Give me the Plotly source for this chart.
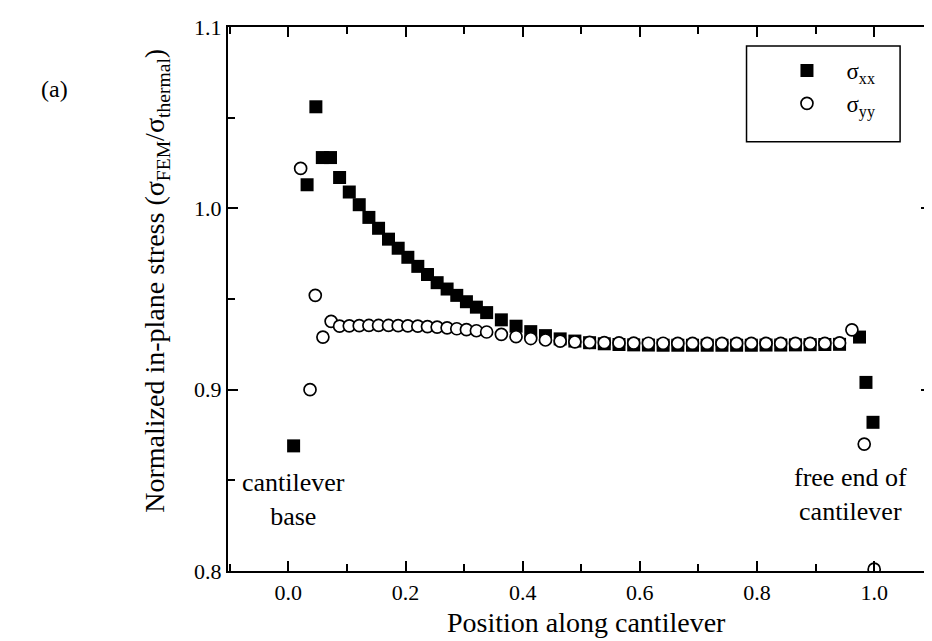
import plotly.graph_objects as go

# sigma_xx (filled squares)
x_xx = [0.009, 0.032, 0.047, 0.058, 0.072,
        0.0875, 0.104, 0.121, 0.1375, 0.154, 0.171, 0.1875, 0.204, 0.221, 0.2375,
        0.254, 0.271, 0.2875, 0.304, 0.321, 0.3385,
        0.3636, 0.3887, 0.4138, 0.4389, 0.4640, 0.4891, 0.5142, 0.5393, 0.5644, 0.5895,
        0.6146, 0.6397, 0.6648, 0.6899, 0.7150, 0.7401, 0.7652, 0.7903, 0.8154, 0.8405,
        0.8656, 0.8907, 0.9158, 0.9409,
        0.975, 0.986, 0.998]
y_xx = [0.869, 1.013, 1.056, 1.028, 1.028,
        1.017, 1.009, 1.002, 0.995, 0.989, 0.983, 0.978, 0.973, 0.968, 0.9635,
        0.959, 0.9555, 0.952, 0.9485, 0.9455, 0.9425,
        0.9385, 0.935, 0.932, 0.9298, 0.928, 0.9268, 0.9259, 0.9253, 0.9249, 0.9247,
        0.9246, 0.9245, 0.9245, 0.9245, 0.9245, 0.9245, 0.9245, 0.9245, 0.9246, 0.9246,
        0.9247, 0.9248, 0.9249, 0.925,
        0.929, 0.904, 0.882]

# sigma_yy (open circles)
x_yy = [0.021, 0.037, 0.046, 0.059, 0.073,
        0.0875, 0.104, 0.121, 0.1375, 0.154, 0.171, 0.1875, 0.204, 0.221, 0.2375,
        0.254, 0.271, 0.2875, 0.304, 0.321, 0.3385,
        0.3636, 0.3887, 0.4138, 0.4389, 0.4640, 0.4891, 0.5142, 0.5393, 0.5644, 0.5895,
        0.6146, 0.6397, 0.6648, 0.6899, 0.7150, 0.7401, 0.7652, 0.7903, 0.8154, 0.8405,
        0.8656, 0.8907, 0.9158, 0.9409,
        0.962, 0.983, 1.000]
y_yy = [1.022, 0.900, 0.952, 0.929, 0.9377,
        0.935, 0.9352, 0.9353, 0.9354, 0.9354, 0.9354, 0.9353, 0.9352, 0.9350, 0.9348,
        0.9345, 0.9341, 0.9336, 0.9331, 0.9325, 0.9318,
        0.9305, 0.9292, 0.9282, 0.9274, 0.9268, 0.9264, 0.9261, 0.9259, 0.9258, 0.9257,
        0.9256, 0.9256, 0.9255, 0.9255, 0.9255, 0.9255, 0.9255, 0.9255, 0.9255, 0.9255,
        0.9255, 0.9255, 0.9255, 0.9258,
        0.933, 0.870, 0.801]

x_ticks = [0.0, 0.2, 0.4, 0.6, 0.8, 1.0]
y_ticks = [0.8, 0.9, 1.0, 1.1]
x_range = [-0.103, 1.097]
y_range = [0.8, 1.1]

FONT = "Liberation Serif, Times New Roman, serif"
L, R, T, B = 220, 7, 18, 78
W, H = 932, 641
PW, PH = W - L - R, H - T - B


def px_x(px):
    return (px - L) / PW


def px_y(py):
    return (H - B - py) / PH


fig = go.Figure()
fig.add_trace(go.Scatter(
    x=x_xx, y=y_xx, mode="markers", name="σ<sub>xx</sub>",
    marker=dict(symbol="square", size=13, color="black", line=dict(width=0))))
fig.add_trace(go.Scatter(
    x=x_yy, y=y_yy, mode="markers", name="σ<sub>yy</sub>",
    marker=dict(symbol="circle", size=12, color="white", line=dict(width=1.7, color="black"))))

axis_common = dict(
    showline=True, linecolor="black", linewidth=2.2, mirror="ticks",
    ticks="inside", ticklen=10, tickwidth=2, tickcolor="black",
    showgrid=False, zeroline=False,
    tickfont=dict(family=FONT, size=22, color="black"),
)
fig.update_xaxes(range=x_range, tickvals=x_ticks, ticktext=[f"{v:.1f}" for v in x_ticks],
                 minor=dict(ticks="inside", ticklen=7, tickwidth=2, tickcolor="black", dtick=0.1, tick0=0),
                 **axis_common)
fig.update_yaxes(range=y_range, tickvals=y_ticks, ticktext=[f"{v:.1f}" for v in y_ticks],
                 minor=dict(ticks="inside", ticklen=7, tickwidth=2, tickcolor="black", dtick=0.05, tick0=0.8),
                 **axis_common)

fig.update_layout(
    width=W, height=H,
    margin=dict(l=L, r=R, t=T, b=B),
    paper_bgcolor="white", plot_bgcolor="white",
    font=dict(family=FONT, color="black"),
    showlegend=True,
    legend=dict(x=px_x(761), y=px_y(40), xanchor="left", yanchor="top",
                borderwidth=0, bgcolor="rgba(0,0,0,0)",
                font=dict(family=FONT, size=23, color="black"),
                itemwidth=69),
    shapes=[dict(type="rect", xref="paper", yref="paper",
                 x0=px_x(740), x1=px_x(894), y0=px_y(133), y1=px_y(37),
                 line=dict(color="black", width=1.5), fillcolor="rgba(0,0,0,0)")],
    annotations=[
        dict(text="Normalized in-plane stress (σ<sub>FEM</sub>/σ<sub>thermal</sub>)",
             xref="paper", yref="paper", x=px_x(148), y=px_y(272),
             xanchor="center", yanchor="middle", textangle=-90,
             showarrow=False, font=dict(family=FONT, size=28, color="black")),
        dict(text="Position along cantilever", xref="paper", yref="paper",
             x=px_x(580), y=px_y(615), xanchor="center", yanchor="middle",
             showarrow=False, font=dict(family=FONT, size=28, color="black")),
        dict(text="cantilever<br>base", xref="x", yref="y", x=0.008, y=0.8394,
             xanchor="center", yanchor="middle",
             showarrow=False, font=dict(family=FONT, size=26, color="black")),
        dict(text="free end of<br>cantilever", xref="x", yref="y", x=0.96, y=0.8424,
             xanchor="center", yanchor="middle",
             showarrow=False, font=dict(family=FONT, size=26, color="black")),
        dict(text="(a)", xref="paper", yref="paper", x=px_x(46), y=px_y(80),
             xanchor="center", yanchor="middle",
             showarrow=False, font=dict(family=FONT, size=24, color="black")),
    ],
)

fig.write_html("out.html")
